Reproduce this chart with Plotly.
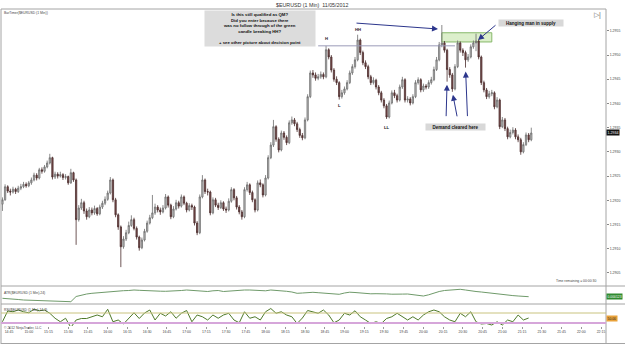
import pandas as pd
import plotly.graph_objects as go

# ---------------- data ----------------
first_open = 1.29192

closes = [
    1.29201, 1.29228, 1.29219, 1.29217, 1.29223, 1.29218, 1.29225, 1.29228, 1.29233, 1.29230,
    1.29236, 1.29242, 1.29252, 1.29246, 1.29263, 1.29260, 1.29269, 1.29277, 1.29288, 1.29248,
    1.29254, 1.29250, 1.29253, 1.29247, 1.29249, 1.29236, 1.29257, 1.29242, 1.29160, 1.29184,
    1.29195, 1.29178, 1.29166, 1.29180, 1.29174, 1.29183, 1.29172, 1.29186, 1.29194, 1.29202,
    1.29215, 1.29242, 1.29201, 1.29170, 1.29145, 1.29104, 1.29120, 1.29133, 1.29148, 1.29160,
    1.29142, 1.29124, 1.29102, 1.29118, 1.29136, 1.29153, 1.29164, 1.29174, 1.29186, 1.29180,
    1.29176, 1.29184, 1.29207, 1.29190, 1.29166, 1.29182, 1.29195, 1.29188, 1.29207, 1.29194,
    1.29180, 1.29189, 1.29186, 1.29153, 1.29133, 1.29207, 1.29242, 1.29218, 1.29217, 1.29174,
    1.29201, 1.29190, 1.29185, 1.29195, 1.29182, 1.29180, 1.29198, 1.29222, 1.29205, 1.29186,
    1.29176, 1.29166, 1.29222, 1.29232, 1.29216, 1.29201, 1.29180, 1.29236, 1.29232, 1.29211,
    1.29246, 1.29288, 1.29314, 1.29352, 1.29326, 1.29304, 1.29339, 1.29330, 1.29319, 1.29360,
    1.29366, 1.29358, 1.29346, 1.29334, 1.29329, 1.29366, 1.29414, 1.29463, 1.29459, 1.29452,
    1.29455, 1.29460, 1.29455, 1.29511, 1.29496, 1.29469, 1.29450, 1.29443, 1.29414, 1.29422,
    1.29430, 1.29443, 1.29463, 1.29476, 1.29490, 1.29531, 1.29505, 1.29484, 1.29476, 1.29455,
    1.29443, 1.29448, 1.29434, 1.29422, 1.29407, 1.29395, 1.29372, 1.29401, 1.29422, 1.29416,
    1.29407, 1.29434, 1.29449, 1.29407, 1.29409, 1.29401, 1.29414, 1.29443, 1.29449, 1.29428,
    1.29436, 1.29434, 1.29443, 1.29449, 1.29470, 1.29490, 1.29521, 1.29525, 1.29510, 1.29470,
    1.29459, 1.29430, 1.29476, 1.29525, 1.29510, 1.29505, 1.29490, 1.29496, 1.29517, 1.29525,
    1.29529, 1.29496, 1.29443, 1.29428, 1.29414, 1.29420, 1.29422, 1.29393, 1.29407, 1.29352,
    1.29366, 1.29348, 1.29331, 1.29340, 1.29345, 1.29331, 1.29325, 1.29300, 1.29315, 1.29335,
    1.29325, 1.29339,
]

highs = [
    1.29206, 1.29233, 1.29231, 1.29224, 1.29228, 1.29226, 1.29230, 1.29234, 1.29238, 1.29237,
    1.29240, 1.29247, 1.29257, 1.29256, 1.29267, 1.29268, 1.29273, 1.29282, 1.29296, 1.29290,
    1.29259, 1.29258, 1.29259, 1.29256, 1.29254, 1.29251, 1.29265, 1.29259, 1.29245, 1.29190,
    1.29203, 1.29199, 1.29183, 1.29186, 1.29185, 1.29189, 1.29186, 1.29191, 1.29199, 1.29208,
    1.29220, 1.29248, 1.29245, 1.29205, 1.29173, 1.29148, 1.29126, 1.29139, 1.29156, 1.29169,
    1.29164, 1.29146, 1.29127, 1.29123, 1.29141, 1.29158, 1.29170, 1.29211, 1.29193, 1.29190,
    1.29185, 1.29190, 1.29213, 1.29210, 1.29193, 1.29188, 1.29201, 1.29199, 1.29212, 1.29210,
    1.29197, 1.29194, 1.29193, 1.29189, 1.29157, 1.29212, 1.29252, 1.29245, 1.29224, 1.29220,
    1.29206, 1.29205, 1.29195, 1.29200, 1.29198, 1.29187, 1.29204, 1.29227, 1.29225, 1.29209,
    1.29190, 1.29180, 1.29227, 1.29238, 1.29235, 1.29220, 1.29204, 1.29241, 1.29243, 1.29235,
    1.29252, 1.29293, 1.29320, 1.29366, 1.29355, 1.29330, 1.29344, 1.29343, 1.29334, 1.29365,
    1.29373, 1.29370, 1.29362, 1.29350, 1.29339, 1.29371, 1.29419, 1.29468, 1.29469, 1.29464,
    1.29461, 1.29466, 1.29464, 1.29519, 1.29514, 1.29500, 1.29473, 1.29456, 1.29446, 1.29428,
    1.29435, 1.29448, 1.29468, 1.29481, 1.29496, 1.29542, 1.29534, 1.29509, 1.29489, 1.29480,
    1.29459, 1.29454, 1.29451, 1.29438, 1.29426, 1.29411, 1.29399, 1.29406, 1.29427, 1.29428,
    1.29420, 1.29439, 1.29455, 1.29452, 1.29415, 1.29413, 1.29419, 1.29448, 1.29454, 1.29452,
    1.29441, 1.29440, 1.29448, 1.29455, 1.29476, 1.29496, 1.29527, 1.29562, 1.29529, 1.29513,
    1.29475, 1.29463, 1.29481, 1.29530, 1.29528, 1.29514, 1.29509, 1.29502, 1.29522, 1.29530,
    1.29544, 1.29532, 1.29499, 1.29447, 1.29432, 1.29426, 1.29428, 1.29425, 1.29413, 1.29410,
    1.29372, 1.29370, 1.29352, 1.29346, 1.29351, 1.29349, 1.29336, 1.29329, 1.29320, 1.29340,
    1.29339, 1.29350,
]

lows = [
    1.29178, 1.29199, 1.29215, 1.29210, 1.29214, 1.29213, 1.29215, 1.29221, 1.29225, 1.29226,
    1.29227, 1.29232, 1.29239, 1.29241, 1.29243, 1.29255, 1.29257, 1.29266, 1.29274, 1.29243,
    1.29244, 1.29245, 1.29247, 1.29242, 1.29243, 1.29232, 1.29234, 1.29238, 1.29108, 1.29156,
    1.29180, 1.29172, 1.29160, 1.29163, 1.29169, 1.29170, 1.29168, 1.29169, 1.29182, 1.29190,
    1.29199, 1.29212, 1.29196, 1.29165, 1.29139, 1.29062, 1.29100, 1.29116, 1.29130, 1.29145,
    1.29138, 1.29119, 1.29096, 1.29099, 1.29115, 1.29133, 1.29150, 1.29161, 1.29170, 1.29175,
    1.29170, 1.29173, 1.29181, 1.29185, 1.29161, 1.29163, 1.29179, 1.29183, 1.29185, 1.29190,
    1.29175, 1.29177, 1.29180, 1.29148, 1.29128, 1.29130, 1.29204, 1.29213, 1.29210, 1.29169,
    1.29171, 1.29186, 1.29180, 1.29182, 1.29178, 1.29174, 1.29177, 1.29195, 1.29200, 1.29181,
    1.29171, 1.29160, 1.29163, 1.29218, 1.29211, 1.29196, 1.29175, 1.29177, 1.29227, 1.29206,
    1.29208, 1.29243, 1.29285, 1.29310, 1.29321, 1.29299, 1.29301, 1.29325, 1.29314, 1.29316,
    1.29356, 1.29353, 1.29341, 1.29329, 1.29324, 1.29326, 1.29363, 1.29411, 1.29453, 1.29447,
    1.29448, 1.29451, 1.29450, 1.29452, 1.29491, 1.29464, 1.29445, 1.29438, 1.29408, 1.29410,
    1.29418, 1.29427, 1.29440, 1.29459, 1.29472, 1.29487, 1.29500, 1.29479, 1.29471, 1.29450,
    1.29438, 1.29439, 1.29429, 1.29417, 1.29402, 1.29390, 1.29368, 1.29369, 1.29398, 1.29411,
    1.29402, 1.29404, 1.29430, 1.29402, 1.29402, 1.29396, 1.29398, 1.29411, 1.29439, 1.29423,
    1.29424, 1.29429, 1.29430, 1.29439, 1.29446, 1.29467, 1.29487, 1.29516, 1.29505, 1.29445,
    1.29453, 1.29424, 1.29427, 1.29473, 1.29505, 1.29498, 1.29474, 1.29486, 1.29493, 1.29513,
    1.29508, 1.29491, 1.29438, 1.29423, 1.29409, 1.29410, 1.29415, 1.29388, 1.29390, 1.29347,
    1.29349, 1.29343, 1.29326, 1.29328, 1.29336, 1.29326, 1.29320, 1.29294, 1.29297, 1.29312,
    1.29320, 1.29322,
]

atr_values = [
    0.000107, 0.000105, 0.000100, 0.000095, 0.000090, 0.000088, 0.000085, 0.000083, 0.000081, 0.000080,
    0.000078, 0.000076, 0.000074, 0.000073, 0.000125, 0.000140, 0.000150, 0.000157, 0.000162, 0.000165,
    0.000173, 0.000177, 0.000180, 0.000183, 0.000185, 0.000190, 0.000187, 0.000183, 0.000180, 0.000177,
    0.000178, 0.000177, 0.000178, 0.000180, 0.000185, 0.000190, 0.000187, 0.000180, 0.000177, 0.000175,
    0.000182, 0.000185, 0.000175, 0.000180, 0.000185, 0.000190, 0.000190, 0.000190, 0.000187, 0.000185,
    0.000182, 0.000190, 0.000187, 0.000183, 0.000177, 0.000170, 0.000157, 0.000160, 0.000165, 0.000167,
    0.000163, 0.000158, 0.000157, 0.000150, 0.000147, 0.000160, 0.000168, 0.000165, 0.000160, 0.000156,
    0.000152, 0.000153, 0.000154, 0.000151, 0.000148, 0.000146, 0.000149, 0.000150, 0.000145, 0.000138,
    0.000130, 0.000142, 0.000160, 0.000175, 0.000185, 0.000190, 0.000195, 0.000197, 0.000190, 0.000180,
    0.000175, 0.000170, 0.000163, 0.000157, 0.000150, 0.000143, 0.000140, 0.000134, 0.000130, 0.000126,
    0.000123,
]

rsi_values = [
    35, 78, 75, 82, 75, 71, 85, 79, 82, 69,
    49, 35, 49, 12, 42, 48, 48, 55, 62, 55,
    85, 35, 42, 26, 48, 71, 48, 70, 82, 42,
    69, 58, 75, 49, 69, 80, 35, 62, 55, 42,
    62, 49, 62, 69, 42, 31, 75, 49, 55, 42,
    75, 88, 69, 75, 62, 55, 28, 50, 80, 75,
    69, 82, 62, 31, 42, 69, 62, 79, 55, 42,
    28, 35, 28, 48, 55, 69, 55, 42, 55, 42,
    62, 75, 82, 75, 55, 42, 35, 69, 55, 75,
    35, 26, 28, 22, 35, 22, 42, 35, 62, 42,
    50,
]

price_ticks = [1.2905, 1.2910, 1.2915, 1.2920, 1.2925, 1.2930,
               1.2935, 1.2940, 1.2945, 1.2950, 1.2955]
rsi_levels = [70, 30]
supply_zone = [1.29527, 1.29546]

opens = [first_open] + closes[:-1]
bar_times = pd.date_range("2012-11-05 14:40", periods=len(closes), freq="2min")
ind_times = pd.date_range("2012-11-05 14:40", periods=len(atr_values), freq="4min")

# ---------------- helpers: pixel -> paper ----------------
PL, PR, PT, PB = 1, 606, 10, 326


def px(X):
    return (X - PL) / (PR - PL)


def py(Y):
    return (PB - Y) / (PB - PT)


FONT = "Liberation Sans"
NAVY = "#2c368c"
BORDER = "#a4a4a4"

fig = go.Figure()
fig.add_trace(go.Candlestick(
    x=bar_times, open=opens, high=highs, low=lows, close=closes,
    increasing=dict(line=dict(color="#6c6c6c", width=0.8), fillcolor="#c6c6c6"),
    decreasing=dict(line=dict(color="#4a2c2c", width=0.8), fillcolor="#7d4f4f"),
    whiskerwidth=0, xaxis="x", yaxis="y", showlegend=False, hoverinfo="skip",
))
fig.add_trace(go.Scatter(x=ind_times, y=atr_values, mode="lines",
                         line=dict(color="#6f9a6a", width=1), xaxis="x", yaxis="y2",
                         showlegend=False, hoverinfo="skip"))
fig.add_trace(go.Scatter(x=ind_times, y=rsi_values, mode="lines",
                         line=dict(color="#4f7a2a", width=1), xaxis="x", yaxis="y3",
                         showlegend=False, hoverinfo="skip"))

shapes = []
# panel borders / separators
for Y, x0, x1 in [(9, 0, 1), (286, 0, px(625)), (304, 0, px(625)), (343.5, 0, px(625))]:
    shapes.append(dict(type="line", xref="paper", yref="paper", x0=x0, x1=x1,
                       y0=py(Y), y1=py(Y), line=dict(color=BORDER, width=1)))
for X in [1, 606]:
    shapes.append(dict(type="line", xref="paper", yref="paper", x0=px(X), x1=px(X),
                       y0=py(9), y1=py(344), line=dict(color=BORDER, width=1)))
# RSI levels
shapes.append(dict(type="line", xref="paper", yref="y3", x0=0, x1=1,
                   y0=rsi_levels[0], y1=rsi_levels[0], line=dict(color="#c9c37e", width=1)))
shapes.append(dict(type="line", xref="paper", yref="y3", x0=0, x1=1,
                   y0=rsi_levels[1], y1=rsi_levels[1], line=dict(color="#d6a6da", width=2)))
# H level line
shapes.append(dict(type="line", xref="x", yref="y", x0=bar_times[120], x1=bar_times[172],
                   y0=highs[123], y1=highs[123], line=dict(color="#9a9ab8", width=1)))
# supply zone
shapes.append(dict(type="rect", xref="x", yref="y", x0=bar_times[167], x1=bar_times[186],
                   y0=supply_zone[0], y1=supply_zone[1],
                   fillcolor="rgba(196,228,168,0.6)", line=dict(color="#86b86a", width=1),
                   layer="below"))

ann = []


def txt(X, Y, text, size=3.6, color="#444", xanchor="left", bold=False):
    ann.append(dict(x=px(X), y=py(Y), xref="paper", yref="paper", text=("<b>%s</b>" % text) if bold else text,
                    showarrow=False, xanchor=xanchor, yanchor="middle",
                    font=dict(size=size, color=color, family=FONT)))


txt(312, 5, "$EURUSD (1 Min)  11/05/2012", size=5.3, color="#333", xanchor="center")
txt(2, 13, "BarTimer($EURUSD (1 Min))", size=3.4)
txt(598, 281, "Time remaining = 00:00:30", size=3.4, xanchor="right")
txt(2, 293, "ATR($EURUSD (1 Min),24)", size=3.4)
txt(2, 310, "RSI($EURUSD (1 Min),14,3)", size=3.4)
txt(2, 328, "© 2012 NinjaTrader, LLC", size=3.4)
txt(597, 15, "▷|", size=7, color="#666", xanchor="center")

# note boxes
ann.append(dict(x=px(260), y=py(29), xref="paper", yref="paper", showarrow=False,
                text="<b>Is this still qualified as QM?<br>Did you enter because there<br>"
                     "was no follow through of the green<br>candle breaking HH?<br><br>"
                     "+ see other picture about decision point</b>",
                font=dict(size=4.3, color="#111", family=FONT), align="center",
                bgcolor="#dcdcdc", width=110, height=35, borderpad=0,
                xanchor="center", yanchor="middle"))
ann.append(dict(x=px(531), y=py(23), xref="paper", yref="paper", showarrow=False,
                text="<b>Hanging man in supply</b>", font=dict(size=4.5, color="#111", family=FONT),
                bgcolor="#d8d8d8", width=64, height=6, borderpad=0, xanchor="center", yanchor="middle"))
ann.append(dict(x=px(455.5), y=py(127), xref="paper", yref="paper", showarrow=False,
                text="<b>Demand cleared here</b>", font=dict(size=4.5, color="#111", family=FONT),
                bgcolor="#d8d8d8", width=59, height=6, borderpad=0, xanchor="center", yanchor="middle"))

# swing labels tied to the bars
for idx, label, src, shift in [(123, "H", highs, 7), (135, "HH", highs, 5),
                               (128, "L", lows, -6), (146, "LL", lows, -9)]:
    ann.append(dict(x=bar_times[idx], y=src[idx], xref="x", yref="y", text="<b>%s</b>" % label,
                    showarrow=False, yshift=shift, xanchor="center", yanchor="middle",
                    font=dict(size=4.2, color="#222", family=FONT)))

# arrows
ann.append(dict(x=px(438), y=py(29), xref="paper", yref="paper", text="", showarrow=True,
                ax=-83, ay=-6, arrowhead=2, arrowsize=1.2, arrowwidth=1, arrowcolor=NAVY))
ann.append(dict(x=px(478), y=py(40), xref="paper", yref="paper", text="", showarrow=True,
                ax=19, ay=-16, arrowhead=2, arrowsize=1.2, arrowwidth=1, arrowcolor=NAVY))
for idx, axo, ayo, so in [(169, -1, 36, 3), (171, 5, 26, 3), (176, 2, 50, 4)]:
    ann.append(dict(x=bar_times[idx], y=lows[idx], xref="x", yref="y", text="", showarrow=True,
                    ax=axo, ay=ayo, standoff=so, arrowhead=2, arrowsize=1.2, arrowwidth=1,
                    arrowcolor=NAVY))

# value markers on the right scale
ann.append(dict(x=1.0, y=closes[-1], xref="paper", yref="y", text="%.4f" % closes[-1],
                showarrow=False, xanchor="left", yanchor="middle", bgcolor="#111",
                font=dict(size=3.6, color="white", family=FONT), borderpad=0.5))
ann.append(dict(x=1.0, y=atr_values[-1], xref="paper", yref="y2", text="%.6f" % atr_values[-1],
                showarrow=False, xanchor="left", yanchor="middle", bgcolor="#2f8a2f",
                font=dict(size=3.4, color="white", family=FONT), borderpad=0.5))
ann.append(dict(x=1.0, y=rsi_values[-1], xref="paper", yref="y3", text="%.2f" % rsi_values[-1],
                showarrow=False, xanchor="left", yanchor="middle", bgcolor="#e9a23a",
                font=dict(size=3.4, color="#222", family=FONT), borderpad=0.5))

fig.update_layout(
    template="none",
    width=625, height=345,
    margin=dict(l=PL, r=625 - PR, t=PT, b=345 - PB),
    paper_bgcolor="white", plot_bgcolor="white",
    showlegend=False, hovermode=False,
    font=dict(family=FONT, size=4, color="#444"),
    xaxis=dict(type="date", range=["2012-11-05 14:38:54", "2012-11-05 22:18:48"],
               anchor="y3", rangeslider=dict(visible=False), showgrid=False, zeroline=False,
               showline=False, tickformat="%H:%M", dtick=900000, tick0="2012-11-05 14:45",
               ticks="outside", ticklen=2, tickcolor="#999", automargin=False,
               tickfont=dict(size=3.5, color="#444", family=FONT)),
    yaxis=dict(domain=[py(286), 1], range=[1.29023, 1.29593], side="right", anchor="x",
               tickvals=price_ticks, tickformat=".4f", ticks="outside", ticklen=2,
               tickcolor="#888", showgrid=False, zeroline=False, showline=False, automargin=False,
               tickfont=dict(size=3.5, color="#444", family=FONT)),
    yaxis2=dict(domain=[py(303), py(287)], range=[0.00006, 0.00022], anchor="x",
                showticklabels=False, ticks="", showgrid=False, zeroline=False, automargin=False),
    yaxis3=dict(domain=[0, py(305)], range=[18, 102], anchor="x",
                showticklabels=False, ticks="", showgrid=False, zeroline=False, automargin=False),
    shapes=shapes,
    annotations=ann,
)

fig.write_html("out.html")
